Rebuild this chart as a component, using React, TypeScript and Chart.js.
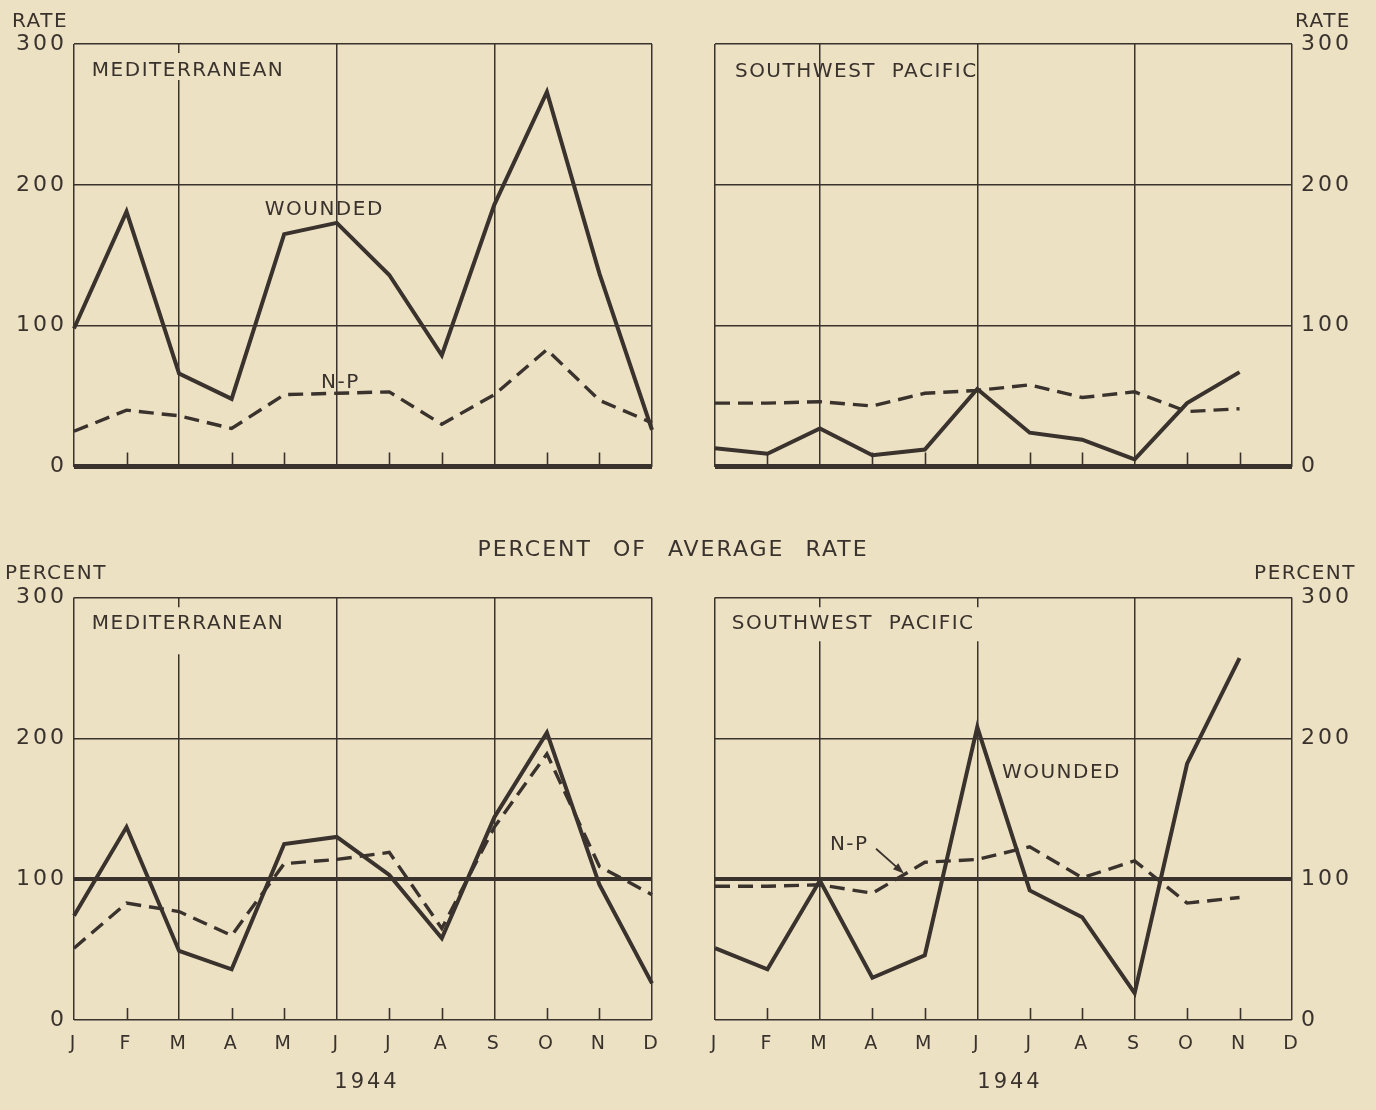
import React, { useEffect, useRef } from 'react';
import { Chart, registerables } from 'chart.js';

Chart.register(...registerables);

// ---------- data ----------
const months = ['J', 'F', 'M', 'A', 'M', 'J', 'J', 'A', 'S', 'O', 'N', 'D'];
const yTickValues = [0, 100, 200, 300];
const gridMonthIdx = [0, 2, 5, 8, 11];

const medRateWounded = [98, 181, 66, 48, 165, 173, 136, 79, 186, 266, 137, 26];
const medRateNP = [25, 40, 36, 27, 51, 52, 53, 30, 51, 83, 47, 31];
const swpRateWounded = [13, 9, 27, 8, 12, 55, 24, 19, 5, 45, 67, null];
const swpRateNP = [45, 45, 46, 43, 52, 54, 58, 49, 53, 39, 41, null];
const medPctWounded = [74, 137, 49, 36, 125, 130, 103, 58, 144, 204, 96, 26];
const medPctNP = [51, 83, 77, 60, 111, 114, 119, 65, 137, 189, 109, 89];
const swpPctWounded = [51, 36, 99, 30, 46, 208, 92, 73, 19, 182, 257, null];
const swpPctNP = [95, 95, 96, 90, 112, 114, 123, 101, 113, 83, 87, null];

// ---------- style ----------
const INK = '#3a322d';
const PAPER = '#ede1c3';
const FONT = "'DejaVu Sans', sans-serif";

type Label = { text: string; xi: number; yv: number; mask?: [number, number] };
type Free = { text: string; x: number; y: number; align: CanvasTextAlign; size: number; spacing: number };

type Panel = {
  left: number; top: number; width: number; height: number;
  yPos: 'left' | 'right';
  pad: { top: number; bottom: number; left: number; right: number };
  yWidth: number; xHeight: number; showX: boolean; tickPad: number;
  heavy: number; heavyW: number; tickLen: number;
  wounded: (number | null)[]; np: (number | null)[];
  labels: Label[]; texts: Free[];
  arrow?: { from: [number, number]; to: [number, number] };
};

const panels: Panel[] = [
  {
    left: 0, top: 0, width: 688, height: 500, yPos: 'left',
    pad: { top: 44, bottom: 33.5, left: 0, right: 36 }, yWidth: 74, xHeight: 0, showX: false, tickPad: 7,
    heavy: 0, heavyW: 5, tickLen: 14,
    wounded: medRateWounded, np: medRateNP,
    labels: [
      { text: 'MEDITERRANEAN', xi: 0.34, yv: 280.8, mask: [18, 9] },
      { text: 'WOUNDED', xi: 3.63, yv: 182 },
      { text: 'N-P', xi: 4.7, yv: 59.5 },
    ],
    texts: [{ text: 'RATE', x: 12, y: 22, align: 'left', size: 20, spacing: 1.5 }],
  },
  {
    left: 688, top: 0, width: 688, height: 500, yPos: 'right',
    pad: { top: 44, bottom: 33.5, left: 27, right: 0 }, yWidth: 84, xHeight: 0, showX: false, tickPad: 9,
    heavy: 0, heavyW: 5, tickLen: 14,
    wounded: swpRateWounded, np: swpRateNP,
    labels: [{ text: 'SOUTHWEST  PACIFIC', xi: 0.38, yv: 280 }],
    texts: [{ text: 'RATE', x: 663, y: 22, align: 'right', size: 20, spacing: 1.5 }],
  },
  {
    left: 0, top: 520, width: 688, height: 590, yPos: 'left',
    pad: { top: 77.5, bottom: 0, left: 0, right: 36 }, yWidth: 74, xHeight: 90, showX: true, tickPad: 7,
    heavy: 100, heavyW: 4, tickLen: 12,
    wounded: medPctWounded, np: medPctNP,
    labels: [{ text: 'MEDITERRANEAN', xi: 0.34, yv: 281, mask: [17, 30] }],
    texts: [
      { text: 'PERCENT', x: 5, y: 54, align: 'left', size: 20, spacing: 1.5 },
      { text: '1944', x: 367, y: 563, align: 'center', size: 21, spacing: 3 },
    ],
  },
  {
    left: 688, top: 520, width: 688, height: 590, yPos: 'right',
    pad: { top: 77.5, bottom: 0, left: 27, right: 0 }, yWidth: 84, xHeight: 90, showX: true, tickPad: 9,
    heavy: 100, heavyW: 4, tickLen: 12,
    wounded: swpPctWounded, np: swpPctNP,
    labels: [
      { text: 'SOUTHWEST  PACIFIC', xi: 0.32, yv: 281, mask: [17, 17] },
      { text: 'WOUNDED', xi: 5.47, yv: 175.4 },
      { text: 'N-P', xi: 2.19, yv: 124.3 },
    ],
    texts: [
      { text: 'PERCENT', x: 668, y: 54, align: 'right', size: 20, spacing: 1.5 },
      { text: '1944', x: 322, y: 563, align: 'center', size: 21, spacing: 3 },
    ],
    arrow: { from: [3.07, 121.6], to: [3.6, 104] },
  },
];

function makeDecor(p: Panel) {
  return {
    id: 'decor',
    beforeDraw(chart: any) {
      chart.ctx.letterSpacing = '3px';
    },
    beforeDatasetsDraw(chart: any) {
      const { ctx, chartArea } = chart;
      const xs = chart.scales.x;
      const ys = chart.scales.y;
      ctx.save();
      ctx.strokeStyle = INK;
      ctx.lineWidth = 1.6;
      for (let i = 0; i < months.length; i++) {
        if (gridMonthIdx.includes(i)) continue;
        const px = Math.round(xs.getPixelForValue(i)) + 0.5;
        ctx.beginPath();
        ctx.moveTo(px, chartArea.bottom);
        ctx.lineTo(px, chartArea.bottom - p.tickLen);
        ctx.stroke();
      }
      ctx.font = `20px ${FONT}`;
      ctx.letterSpacing = '1.5px';
      ctx.fillStyle = PAPER;
      for (const l of p.labels) {
        if (!l.mask) continue;
        const w = ctx.measureText(l.text).width;
        const x = xs.getPixelForValue(l.xi);
        const y = ys.getPixelForValue(l.yv);
        ctx.fillRect(x - 5, y - l.mask[0], w + 10, l.mask[0] + l.mask[1]);
      }
      ctx.restore();
    },
    afterDatasetsDraw(chart: any) {
      const { ctx } = chart;
      const xs = chart.scales.x;
      const ys = chart.scales.y;
      ctx.save();
      ctx.fillStyle = INK;
      ctx.strokeStyle = INK;
      ctx.textBaseline = 'middle';
      ctx.font = `20px ${FONT}`;
      ctx.letterSpacing = '1.5px';
      ctx.textAlign = 'left';
      for (const l of p.labels) {
        ctx.fillText(l.text, xs.getPixelForValue(l.xi), ys.getPixelForValue(l.yv));
      }
      for (const t of p.texts) {
        ctx.font = `${t.size}px ${FONT}`;
        ctx.letterSpacing = `${t.spacing}px`;
        ctx.textAlign = t.align;
        ctx.fillText(t.text, t.x, t.y);
      }
      if (p.arrow) {
        const x1 = xs.getPixelForValue(p.arrow.from[0]);
        const y1 = ys.getPixelForValue(p.arrow.from[1]);
        const x2 = xs.getPixelForValue(p.arrow.to[0]);
        const y2 = ys.getPixelForValue(p.arrow.to[1]);
        const ang = Math.atan2(y2 - y1, x2 - x1);
        const hl = 11, hw = 4;
        ctx.lineWidth = 1.8;
        ctx.beginPath();
        ctx.moveTo(x1, y1);
        ctx.lineTo(x2 - Math.cos(ang) * hl * 0.8, y2 - Math.sin(ang) * hl * 0.8);
        ctx.stroke();
        ctx.beginPath();
        ctx.moveTo(x2, y2);
        ctx.lineTo(x2 - Math.cos(ang) * hl - Math.sin(ang) * hw, y2 - Math.sin(ang) * hl + Math.cos(ang) * hw);
        ctx.lineTo(x2 - Math.cos(ang) * hl + Math.sin(ang) * hw, y2 - Math.sin(ang) * hl - Math.cos(ang) * hw);
        ctx.closePath();
        ctx.fill();
      }
      ctx.restore();
    },
    afterDraw(chart: any) {
      chart.ctx.letterSpacing = '0px';
    },
  };
}

function PanelChart({ p }: { p: Panel }) {
  const ref = useRef<HTMLCanvasElement | null>(null);
  useEffect(() => {
    if (!ref.current) return;
    const chart = new Chart(ref.current, {
      type: 'line',
      data: {
        labels: months,
        datasets: [
          {
            label: 'Wounded',
            data: p.wounded,
            borderColor: INK,
            borderWidth: 4,
            pointRadius: 0,
            tension: 0,
            fill: false,
            borderJoinStyle: 'miter',
          },
          {
            label: 'N-P',
            data: p.np,
            borderColor: INK,
            borderWidth: 3.4,
            borderDash: [15, 8],
            pointRadius: 0,
            tension: 0,
            fill: false,
            borderJoinStyle: 'miter',
          },
        ],
      },
      options: {
        responsive: false,
        animation: false,
        events: [],
        layout: { padding: p.pad },
        plugins: { legend: { display: false }, tooltip: { enabled: false }, title: { display: false } },
        scales: {
          x: {
            type: 'category',
            offset: false,
            border: { display: false },
            grid: {
              drawTicks: false,
              color: (c: any) => (gridMonthIdx.includes(c.index) ? INK : 'rgba(0,0,0,0)'),
              lineWidth: 1.5,
            },
            ticks: {
              display: p.showX,
              color: INK,
              font: { family: FONT, size: 19 },
              padding: 13,
              autoSkip: false,
              maxRotation: 0,
            },
            afterFit: (s: any) => { s.height = p.xHeight; },
          },
          y: {
            position: p.yPos,
            min: 0,
            max: 300,
            border: { display: false },
            afterBuildTicks: (s: any) => { s.ticks = yTickValues.map((v) => ({ value: v })); },
            grid: {
              drawTicks: false,
              color: INK,
              lineWidth: (c: any) => (c.tick && c.tick.value === p.heavy ? p.heavyW : 1.5),
            },
            ticks: {
              color: INK,
              font: { family: FONT, size: 22 },
              padding: p.tickPad,
              callback: (v: any) => String(v),
            },
            afterFit: (s: any) => { s.width = p.yWidth; },
          },
        },
      },
      plugins: [makeDecor(p)],
    } as any);
    return () => chart.destroy();
  }, [p]);
  return (
    <canvas
      ref={ref}
      width={p.width}
      height={p.height}
      style={{ position: 'absolute', left: p.left, top: p.top, width: p.width, height: p.height }}
    />
  );
}

export default function App() {
  return (
    <div
      style={{
        position: 'absolute',
        left: 0,
        top: 0,
        width: 1376,
        height: 1110,
        background: PAPER,
        overflow: 'hidden',
      }}
    >
      {panels.map((p, i) => (
        <PanelChart key={i} p={p} />
      ))}
      <div
        style={{
          position: 'absolute',
          left: 373,
          top: 538,
          width: 600,
          textAlign: 'center',
          fontFamily: FONT,
          fontSize: 22,
          lineHeight: '22px',
          letterSpacing: '2px',
          wordSpacing: '12px',
          color: INK,
          whiteSpace: 'pre',
        }}
      >
        PERCENT OF AVERAGE RATE
      </div>
    </div>
  );
}
